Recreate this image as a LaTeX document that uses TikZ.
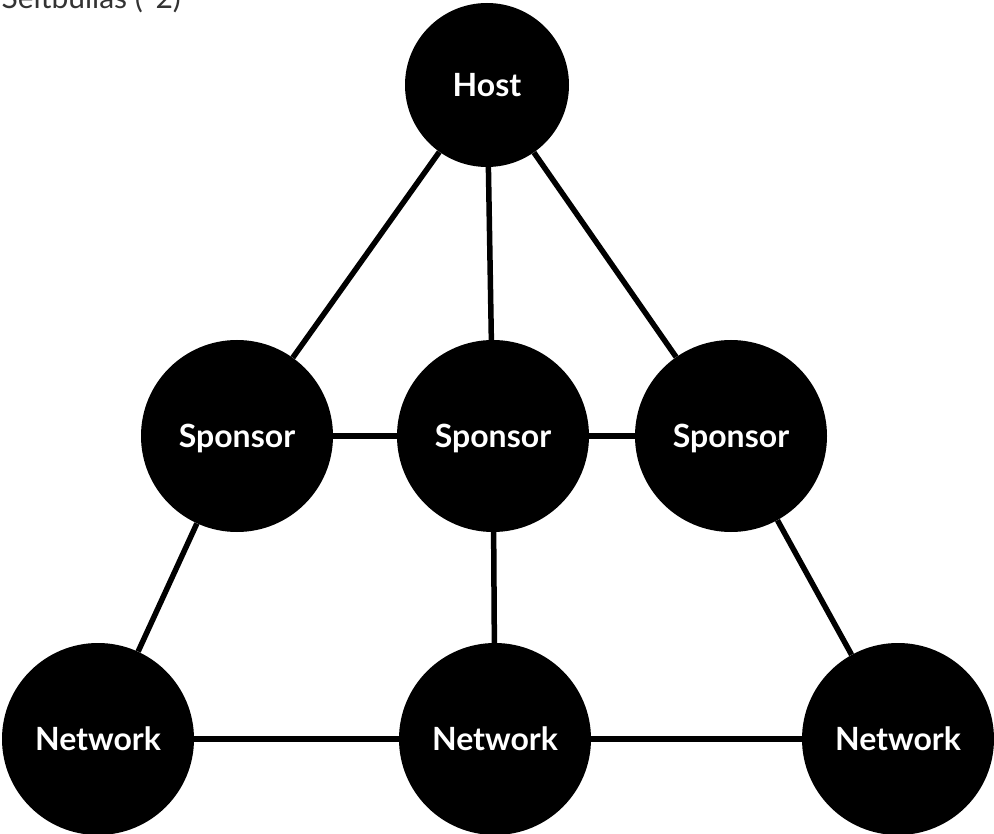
\documentclass[tikz,border=0pt]{standalone}
\usepackage{fontspec}
\setmainfont{Lato}
\begin{document}
\begin{tikzpicture}[x=1pt,y=-1pt,
  hub/.style={circle,fill=black,draw=none,inner sep=0pt,minimum size=#1,
    text=white,text depth=0pt,font=\fontsize{32}{36}\selectfont\bfseries},
  link/.style={line width=5.5pt,black}]
\useasboundingbox (0,0) rectangle (994,834);
\node[anchor=base west,text=black!80,font=\fontsize{30}{34}\selectfont] (cap) at (-2,9) {Seitbullas (*2)};
\node[hub=164pt] (h) at (487,85) {Host};
\node[hub=192pt] (s1) at (237,436) {Sponsor};
\node[hub=192pt] (s2) at (493,436) {Sponsor};
\node[hub=192pt] (s3) at (731,436) {Sponsor};
\node[hub=192pt] (n1) at (98,739) {Network};
\node[hub=192pt] (n2) at (495,739) {Network};
\node[hub=192pt] (n3) at (898,739) {Network};
\draw[link] (h) -- (s1);
\draw[link] (h) -- (s2);
\draw[link] (h) -- (s3);
\draw[link] (s1) -- (s2);
\draw[link] (s2) -- (s3);
\draw[link] (s1) -- (n1);
\draw[link] (s2) -- (n2);
\draw[link] (s3) -- (n3);
\draw[link] (n1) -- (n2);
\draw[link] (n2) -- (n3);
\end{tikzpicture}
\end{document}
